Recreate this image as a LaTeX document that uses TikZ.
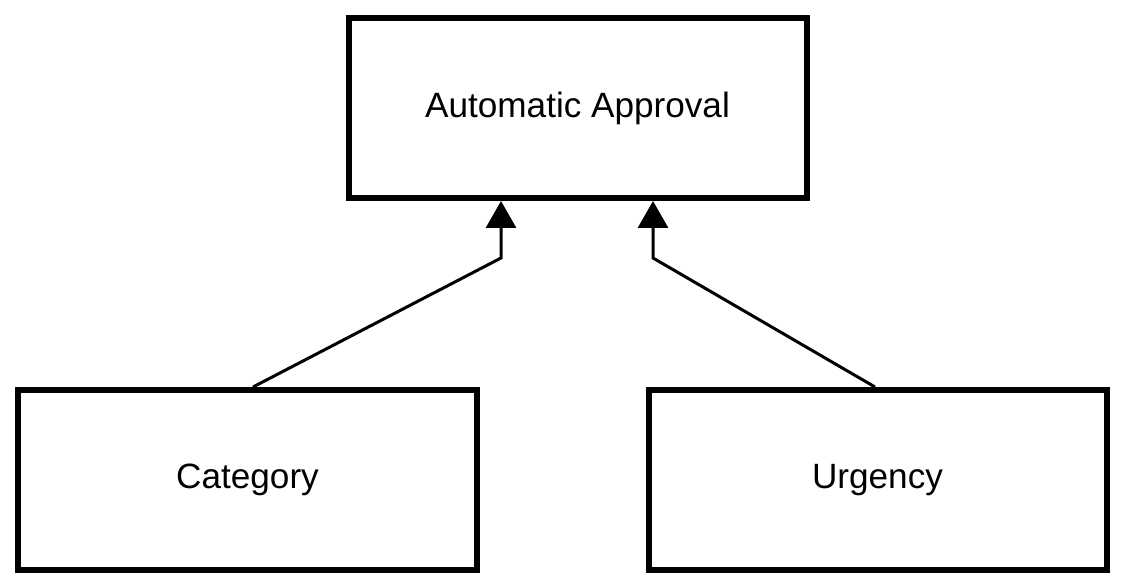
\documentclass[tikz,border=0pt]{standalone}
\usepackage{fontspec}
\setmainfont{Liberation Sans}
\usepackage{tikz}
\usetikzlibrary{positioning, arrows.meta}

\begin{document}
\begin{tikzpicture}[
        factor_node/.style={draw, rectangle, line width=0.12cm, minimum width=9.16cm, minimum height=3.6cm, align=center, font=\fontsize{20}{24}\selectfont},
        arrow/.style={-{Triangle[width=0.6cm, length=0.54cm]}, line width=0.06cm}
    ]
        \useasboundingbox (0,0) rectangle (22.5,-11.76);

        % Nodes
        \node (approval) [factor_node] at (11.55,-2.16) {Automatic Approval};
        \node (category) [factor_node, below=3.72cm of approval, xshift=-6.6cm] {Category};
        \node (urgency) [factor_node, below=3.72cm of approval, xshift=6cm] {Urgency};

        % Bends
        \coordinate (bend_left) at ([xshift=-1.53cm, yshift=-1.14cm]approval.south);
        \coordinate (bend_right) at ([xshift=1.51cm, yshift=-1.14cm]approval.south);

        % Arrows
        \draw [arrow] ([xshift=0.11cm]category.north) -- (bend_left) -- (bend_left |- approval.south);
        \draw [arrow] ([xshift=-0.05cm]urgency.north) -- (bend_right) -- (bend_right |- approval.south);
    \end{tikzpicture}
\end{document}
